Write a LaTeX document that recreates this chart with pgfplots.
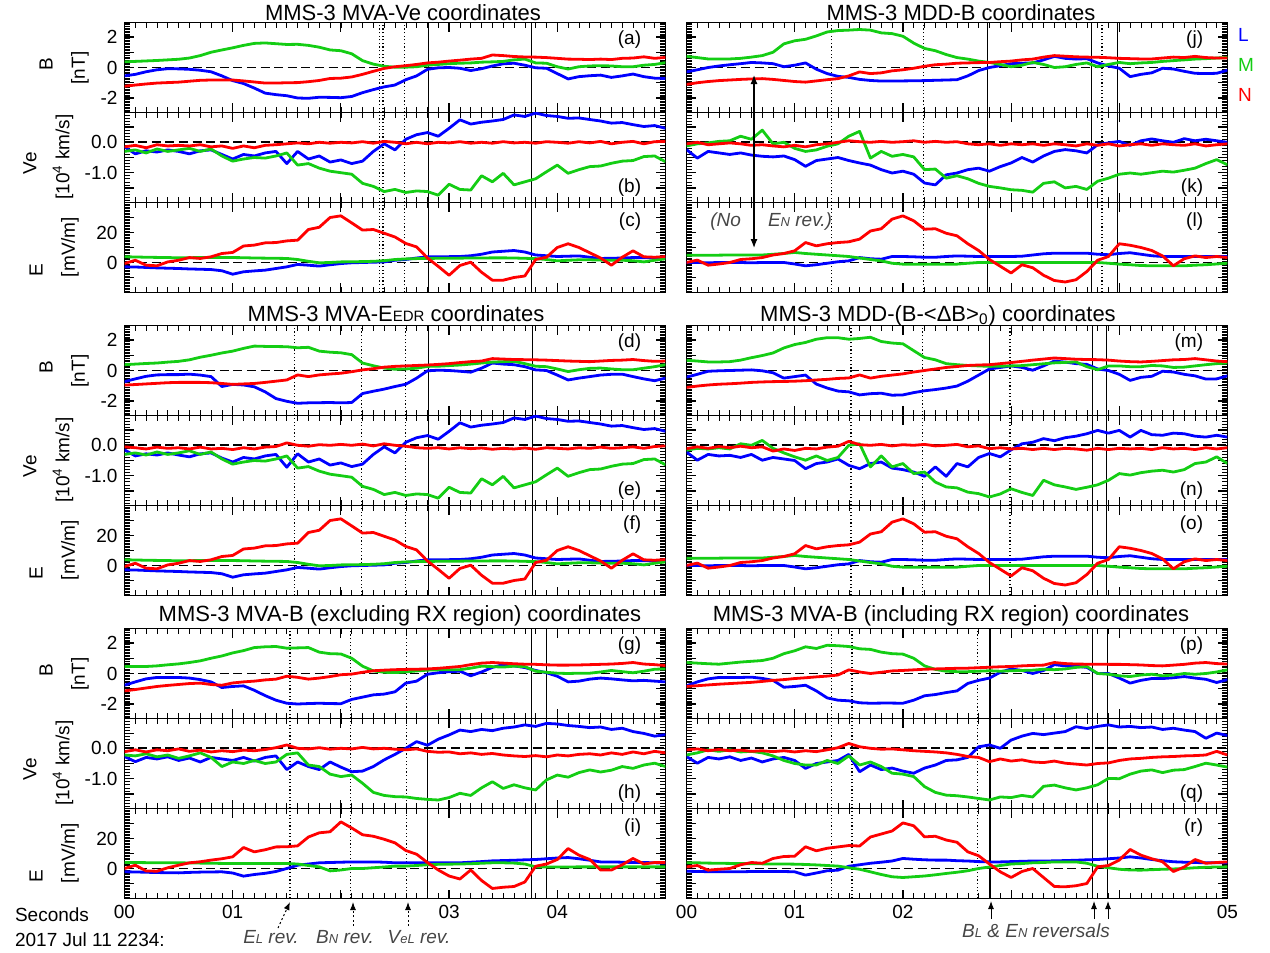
\documentclass[border=0pt]{standalone}
\usepackage{fontspec}
\setmainfont{Liberation Sans}
\setsansfont{Liberation Sans}
\usepackage{pgfplots}
\pgfplotsset{compat=1.18}
\usepackage{pgfplotstable}
\usetikzlibrary{arrows.meta}

\definecolor{cL}{RGB}{0,0,255}
\definecolor{cM}{RGB}{20,205,20}
\definecolor{cN}{RGB}{255,0,0}
\definecolor{annot}{RGB}{70,70,70}

\newcommand{\fs}{\fontsize{9.5}{11}\selectfont}
\newcommand{\ft}{\fontsize{11}{13}\selectfont}
\newcommand{\sm}[1]{{\fontsize{6.5}{7}\selectfont #1}}

% ---------------- data: t, L (blue), M (green), N (red) ----------------
\pgfplotstableread{
t L M N
0.0 -0.55 0.37 -1.23
0.1 -0.45 0.40 -1.15
0.2 -0.28 0.43 -1.08
0.3 -0.15 0.46 -1.02
0.4 -0.08 0.50 -0.99
0.5 -0.09 0.54 -0.96
0.6 -0.12 0.62 -0.90
0.7 -0.18 0.78 -0.84
0.8 -0.28 1.00 -0.82
0.9 -0.55 1.15 -0.82
1.0 -0.86 1.29 -0.82
1.1 -1.05 1.45 -0.88
1.2 -1.35 1.58 -0.95
1.3 -1.68 1.61 -1.02
1.4 -1.78 1.56 -1.02
1.5 -1.85 1.51 -1.00
1.6 -2.00 1.52 -0.99
1.7 -2.02 1.45 -0.93
1.8 -1.95 1.33 -0.85
1.9 -1.96 1.15 -0.72
2.0 -1.98 1.10 -0.70
2.1 -1.90 0.90 -0.62
2.2 -1.65 0.45 -0.45
2.3 -1.45 0.22 -0.25
2.4 -1.27 0.08 -0.06
2.5 -1.15 0.02 0.05
2.6 -0.80 0.02 0.12
2.7 -0.55 0.05 0.20
2.8 -0.12 0.15 0.30
2.9 -0.02 0.20 0.35
3.0 0.00 0.25 0.42
3.1 -0.05 0.28 0.48
3.2 -0.20 0.30 0.55
3.3 -0.08 0.35 0.60
3.4 0.10 0.37 0.82
3.5 0.24 0.40 0.78
3.6 0.28 0.50 0.72
3.7 0.15 0.55 0.69
3.8 -0.02 0.30 0.68
3.9 -0.05 0.28 0.65
4.0 -0.40 0.05 0.60
4.1 -0.75 -0.10 0.55
4.2 -0.60 0.05 0.54
4.3 -0.54 0.10 0.52
4.4 -0.50 0.12 0.55
4.5 -0.65 0.10 0.52
4.6 -0.55 0.05 0.60
4.7 -0.43 0.05 0.62
4.8 -0.60 0.15 0.70
4.9 -0.70 0.20 0.60
5.0 -0.72 0.32 0.66
}\Ta

\pgfplotstableread{
t L M N
0.0 -0.15 -0.30 -0.15
0.1 -0.38 -0.25 -0.10
0.2 -0.28 -0.35 -0.18
0.3 -0.32 -0.22 -0.08
0.4 -0.25 -0.30 -0.12
0.5 -0.30 -0.25 -0.10
0.6 -0.38 -0.20 -0.12
0.7 -0.28 -0.30 -0.08
0.8 -0.25 -0.22 -0.15
0.9 -0.40 -0.45 -0.12
1.0 -0.55 -0.62 -0.20
1.1 -0.40 -0.55 -0.12
1.2 -0.45 -0.50 -0.18
1.3 -0.35 -0.52 -0.10
1.4 -0.30 -0.45 -0.08
1.5 -0.70 -0.35 -0.05
1.6 -0.30 -0.75 -0.02
1.7 -0.55 -0.70 -0.05
1.8 -0.45 -0.85 0.00
1.9 -0.65 -0.95 -0.03
2.0 -0.58 -1.00 0.00
2.1 -0.70 -1.05 -0.02
2.2 -0.62 -1.35 0.02
2.3 -0.30 -1.45 -0.03
2.4 -0.05 -1.62 0.03
2.5 -0.25 -1.55 0.00
2.6 0.10 -1.65 -0.05
2.7 0.25 -1.60 0.00
2.8 0.32 -1.62 -0.05
2.9 0.20 -1.74 0.00
3.0 0.46 -1.38 -0.02
3.1 0.74 -1.55 0.02
3.2 0.60 -1.57 -0.03
3.3 0.66 -1.10 0.00
3.4 0.70 -1.30 -0.03
3.5 0.75 -1.02 0.02
3.6 0.90 -1.40 -0.02
3.7 0.85 -1.30 0.00
3.8 0.96 -1.20 -0.03
3.9 0.88 -0.97 0.02
4.0 0.85 -0.75 0.00
4.1 0.79 -1.02 -0.03
4.2 0.80 -0.90 0.02
4.3 0.75 -0.80 -0.02
4.4 0.70 -0.78 0.03
4.5 0.63 -0.69 -0.05
4.6 0.65 -0.62 0.00
4.7 0.58 -0.60 0.03
4.8 0.52 -0.47 -0.05
4.9 0.55 -0.45 0.02
5.0 0.46 -0.64 0.03
}\Tb

\pgfplotstableread{
t L M N
0.0 -2.9 3.8 -0.7
0.1 -3.0 3.7 1.5
0.2 -3.3 3.5 -1.8
0.3 -3.6 3.4 -2.2
0.4 -3.8 3.3 0.4
0.5 -4.0 3.1 1.5
0.6 -4.3 3.2 3.3
0.7 -4.5 3.3 2.7
0.8 -4.7 3.3 3.8
0.9 -5.5 3.3 6.0
1.0 -7.8 3.3 6.7
1.1 -6.2 3.2 11.0
1.2 -5.6 3.0 11.6
1.3 -5.1 2.9 13.1
1.4 -4.0 2.8 13.3
1.5 -2.9 2.7 14.4
1.6 -1.3 2.0 14.9
1.7 -1.8 0.8 22.0
1.8 -2.4 -0.2 23.5
1.9 -1.5 0.0 30.0
2.0 -0.7 0.4 31.1
2.1 -0.2 0.5 26.4
2.2 0.0 0.6 21.6
2.3 0.2 0.8 22.0
2.4 0.4 1.2 19.5
2.5 1.5 2.0 17.0
2.6 2.0 2.4 12.7
2.7 3.0 2.6 10.4
2.8 3.8 2.7 3.0
2.9 3.8 2.8 -2.6
3.0 3.9 2.8 -8.5
3.1 4.0 2.9 -2.0
3.2 4.5 3.0 0.2
3.3 5.5 3.0 -6.5
3.4 7.0 3.1 -11.8
3.5 7.5 3.1 -11.8
3.6 8.0 3.0 -10.0
3.7 7.0 2.8 -9.0
3.8 5.0 2.6 2.0
3.9 4.5 2.0 3.5
4.0 4.0 1.1 10.0
4.1 4.2 1.5 12.5
4.2 4.4 1.8 10.0
4.3 3.5 1.8 6.5
4.4 2.7 1.6 3.0
4.5 2.8 1.5 -1.8
4.6 3.0 1.5 3.5
4.7 3.3 1.2 7.8
4.8 3.2 0.4 3.8
4.9 3.0 1.5 3.5
5.0 3.3 2.4 4.0
}\Tc

\pgfplotstableread{
t L M N
0.0 -0.73 0.38 -0.96
0.1 -0.55 0.42 -0.92
0.2 -0.38 0.46 -0.88
0.3 -0.29 0.49 -0.84
0.4 -0.27 0.55 -0.80
0.5 -0.27 0.60 -0.78
0.6 -0.24 0.70 -0.78
0.7 -0.30 0.87 -0.78
0.8 -0.40 1.00 -0.80
0.9 -1.05 1.15 -0.85
1.0 -0.91 1.27 -0.91
1.1 -0.95 1.45 -0.88
1.2 -1.07 1.60 -0.85
1.3 -1.40 1.58 -0.78
1.4 -1.84 1.57 -0.70
1.5 -2.02 1.56 -0.62
1.6 -2.15 1.49 -0.29
1.7 -2.12 1.52 -0.40
1.8 -2.11 1.27 -0.29
1.9 -2.10 1.20 -0.23
2.0 -2.12 1.16 -0.18
2.1 -2.10 1.04 -0.08
2.2 -1.51 0.49 0.04
2.3 -1.36 0.31 0.12
2.4 -1.22 0.16 0.22
2.5 -1.05 0.08 0.27
2.6 -0.90 0.10 0.30
2.7 -0.50 0.15 0.33
2.8 -0.02 0.27 0.36
2.9 0.02 0.28 0.40
3.0 0.00 0.32 0.45
3.1 -0.05 0.36 0.52
3.2 -0.11 0.42 0.58
3.3 0.15 0.49 0.62
3.4 0.49 0.55 0.78
3.5 0.42 0.58 0.75
3.6 0.38 0.60 0.72
3.7 0.25 0.45 0.71
3.8 0.04 0.28 0.70
3.9 0.00 0.25 0.68
4.0 -0.30 0.10 0.65
4.1 -0.62 -0.07 0.62
4.2 -0.50 0.05 0.60
4.3 -0.40 0.14 0.58
4.4 -0.30 0.16 0.62
4.5 -0.25 0.10 0.66
4.6 -0.24 0.05 0.68
4.7 -0.40 0.05 0.72
4.8 -0.55 0.15 0.65
4.9 -0.67 0.25 0.60
5.0 -0.50 0.38 0.62
}\Td

\pgfplotstableread{
t L M N
0.0 -0.15 -0.30 -0.05
0.1 -0.35 -0.25 -0.08
0.2 -0.28 -0.32 -0.12
0.3 -0.32 -0.22 -0.06
0.4 -0.25 -0.30 -0.10
0.5 -0.32 -0.25 -0.08
0.6 -0.38 -0.18 -0.12
0.7 -0.28 -0.30 -0.06
0.8 -0.25 -0.22 -0.12
0.9 -0.42 -0.45 -0.10
1.0 -0.55 -0.62 -0.14
1.1 -0.40 -0.55 -0.08
1.2 -0.45 -0.50 -0.12
1.3 -0.35 -0.52 -0.06
1.4 -0.30 -0.45 -0.04
1.5 -0.72 -0.35 0.08
1.6 -0.28 -0.75 0.00
1.7 -0.55 -0.70 -0.03
1.8 -0.45 -0.85 0.02
1.9 -0.65 -0.95 0.00
2.0 -0.58 -1.00 0.03
2.1 -0.70 -1.05 0.00
2.2 -0.62 -1.35 0.04
2.3 -0.30 -1.45 -0.02
2.4 -0.05 -1.62 0.05
2.5 -0.25 -1.55 0.00
2.6 0.10 -1.65 -0.03
2.7 0.25 -1.60 -0.08
2.8 0.32 -1.62 -0.10
2.9 0.20 -1.74 -0.08
3.0 0.46 -1.38 -0.12
3.1 0.74 -1.55 -0.08
3.2 0.60 -1.57 -0.11
3.3 0.66 -1.10 -0.09
3.4 0.70 -1.30 -0.13
3.5 0.75 -1.02 -0.10
3.6 0.90 -1.40 -0.12
3.7 0.85 -1.30 -0.09
3.8 0.96 -1.20 -0.13
3.9 0.88 -0.97 -0.08
4.0 0.85 -0.75 -0.10
4.1 0.79 -1.02 -0.12
4.2 0.80 -0.90 -0.08
4.3 0.75 -0.80 -0.10
4.4 0.70 -0.78 -0.06
4.5 0.63 -0.69 -0.10
4.6 0.65 -0.62 -0.08
4.7 0.58 -0.60 -0.05
4.8 0.52 -0.47 -0.10
4.9 0.55 -0.45 -0.04
5.0 0.46 -0.64 -0.02
}\Te

\pgfplotstableread{
t L M N
0.0 -0.77 0.46 -1.14
0.1 -0.55 0.46 -1.05
0.2 -0.35 0.46 -0.95
0.3 -0.26 0.50 -0.85
0.4 -0.26 0.57 -0.78
0.5 -0.26 0.63 -0.72
0.6 -0.30 0.72 -0.66
0.7 -0.40 0.83 -0.63
0.8 -0.55 1.00 -0.72
0.9 -0.92 1.15 -0.77
1.0 -0.85 1.35 -0.62
1.1 -0.81 1.50 -0.55
1.2 -1.10 1.70 -0.50
1.3 -1.45 1.75 -0.42
1.4 -1.75 1.77 -0.37
1.5 -1.95 1.66 -0.18
1.6 -2.00 1.68 -0.25
1.7 -1.97 1.70 -0.37
1.8 -1.95 1.40 -0.30
1.9 -1.97 1.30 -0.20
2.0 -1.98 1.28 -0.08
2.1 -1.70 1.00 -0.04
2.2 -1.55 0.48 0.08
2.3 -1.40 0.17 0.18
2.4 -1.35 0.08 0.22
2.5 -1.20 0.06 0.25
2.6 -0.63 0.10 0.27
2.7 -0.50 0.17 0.28
2.8 -0.05 0.22 0.30
2.9 0.05 0.24 0.34
3.0 0.12 0.24 0.40
3.1 0.15 0.25 0.46
3.2 -0.15 0.35 0.58
3.3 0.10 0.48 0.68
3.4 0.40 0.45 0.72
3.5 0.58 0.42 0.68
3.6 0.50 0.48 0.64
3.7 0.39 0.45 0.61
3.8 0.20 0.15 0.60
3.9 0.05 0.08 0.57
4.0 -0.18 0.02 0.55
4.1 -0.55 0.00 0.55
4.2 -0.50 0.02 0.56
4.3 -0.37 0.02 0.58
4.4 -0.30 0.10 0.60
4.5 -0.35 0.20 0.62
4.6 -0.42 0.12 0.66
4.7 -0.48 0.05 0.72
4.8 -0.45 0.15 0.62
4.9 -0.50 0.28 0.58
5.0 -0.55 0.30 0.52
}\Tg

\pgfplotstableread{
t L M N
0.0 -0.27 -0.22 -0.11
0.1 -0.44 -0.25 -0.05
0.2 -0.30 -0.18 -0.12
0.3 -0.35 -0.28 -0.05
0.4 -0.28 -0.22 -0.08
0.5 -0.40 -0.33 -0.02
0.6 -0.32 -0.25 -0.10
0.7 -0.45 -0.15 -0.06
0.8 -0.30 -0.30 -0.12
0.9 -0.35 -0.60 -0.08
1.0 -0.40 -0.45 -0.11
1.1 -0.30 -0.50 -0.06
1.2 -0.42 -0.40 -0.08
1.3 -0.30 -0.50 -0.04
1.4 -0.25 -0.45 0.02
1.5 -0.70 -0.20 0.11
1.6 -0.45 -0.15 0.00
1.7 -0.60 -0.55 -0.02
1.8 -0.70 -0.60 0.02
1.9 -0.45 -0.85 -0.03
2.0 -0.62 -0.93 0.00
2.1 -0.77 -0.88 -0.02
2.2 -0.75 -1.15 0.03
2.3 -0.60 -1.45 -0.02
2.4 -0.38 -1.55 0.00
2.5 -0.20 -1.59 -0.03
2.6 0.00 -1.60 -0.05
2.7 0.22 -1.65 -0.02
2.8 0.10 -1.68 -0.10
2.9 0.30 -1.70 -0.13
3.0 0.44 -1.62 -0.12
3.1 0.60 -1.48 -0.18
3.2 0.55 -1.55 -0.15
3.3 0.62 -1.30 -0.20
3.4 0.58 -1.10 -0.17
3.5 0.66 -1.32 -0.22
3.6 0.70 -1.20 -0.25
3.7 0.77 -1.30 -0.27
3.8 0.72 -1.37 -0.24
3.9 0.82 -1.04 -0.28
4.0 0.80 -0.88 -0.22
4.1 0.75 -0.95 -0.25
4.2 0.72 -0.80 -0.20
4.3 0.68 -0.71 -0.18
4.4 0.70 -0.78 -0.22
4.5 0.62 -0.72 -0.15
4.6 0.66 -0.60 -0.20
4.7 0.55 -0.66 -0.12
4.8 0.49 -0.55 -0.18
4.9 0.40 -0.49 -0.10
5.0 0.45 -0.60 -0.15
}\Th

\pgfplotstableread{
t L M N
0.0 -2.2 4.0 0.0
0.1 -2.3 4.0 2.2
0.2 -2.5 3.9 -1.6
0.3 -2.7 3.8 -1.8
0.4 -2.8 3.8 0.5
0.5 -2.9 3.8 2.2
0.6 -2.6 3.7 3.8
0.7 -2.4 3.6 4.5
0.8 -2.3 3.5 5.6
0.9 -2.2 3.4 6.5
1.0 -3.0 3.4 7.8
1.1 -5.1 3.4 14.0
1.2 -4.0 3.4 11.1
1.3 -3.2 3.3 12.5
1.4 -2.0 3.3 14.4
1.5 0.0 3.3 14.5
1.6 2.2 3.0 15.1
1.7 3.0 2.0 21.0
1.8 3.8 1.1 23.8
1.9 4.0 -1.6 24.5
2.0 4.2 -1.0 31.1
2.1 4.4 0.0 27.0
2.2 4.4 0.0 22.5
2.3 4.4 0.5 21.5
2.4 4.2 1.0 19.5
2.5 3.8 1.6 17.1
2.6 3.8 1.6 12.0
2.7 3.8 2.0 9.5
2.8 3.8 2.5 4.0
2.9 3.8 2.8 -1.0
3.0 3.8 2.9 -5.0
3.1 3.8 3.0 -7.0
3.2 4.2 3.2 -1.0
3.3 4.6 3.5 -8.0
3.4 5.1 3.8 -13.3
3.5 5.3 3.8 -12.5
3.6 5.5 3.6 -12.0
3.7 5.8 3.0 -9.0
3.8 6.0 1.1 1.5
3.9 6.5 1.0 3.0
4.0 7.0 1.0 6.0
4.1 7.3 1.0 13.3
4.2 6.5 1.1 8.9
4.3 5.5 1.1 6.0
4.4 4.4 1.1 -1.0
4.5 4.4 1.1 -1.0
4.6 4.2 1.1 2.5
4.7 4.0 1.1 6.7
4.8 4.0 1.1 3.0
4.9 3.8 1.1 4.0
5.0 3.6 1.1 4.0
}\Ti

\pgfplotstableread{
t L M N
0.0 -0.29 0.73 -1.11
0.1 -0.15 0.65 -1.00
0.2 0.00 0.56 -0.92
0.3 0.10 0.56 -0.86
0.4 0.18 0.56 -0.82
0.5 0.25 0.60 -0.78
0.6 0.33 0.68 -0.75
0.7 0.30 0.78 -0.73
0.8 0.25 1.00 -0.78
0.9 0.05 1.55 -0.85
1.0 0.15 1.75 -0.92
1.1 0.30 1.85 -0.96
1.2 -0.11 2.07 -0.88
1.3 -0.40 2.33 -0.80
1.4 -0.58 2.42 -0.73
1.5 -0.65 2.45 -0.55
1.6 -0.78 2.49 -0.29
1.7 -0.85 2.45 -0.40
1.8 -0.89 2.27 -0.35
1.9 -0.89 2.22 -0.22
2.0 -0.88 2.05 -0.15
2.1 -0.87 1.60 -0.05
2.2 -0.86 1.25 0.08
2.3 -0.84 1.10 0.18
2.4 -0.82 0.85 0.22
2.5 -0.80 0.65 0.28
2.6 -0.55 0.55 0.30
2.7 -0.20 0.42 0.32
2.8 0.00 0.33 0.33
2.9 0.12 0.20 0.38
3.0 0.25 0.05 0.42
3.1 0.28 0.15 0.50
3.2 0.30 0.33 0.55
3.3 0.50 0.20 0.68
3.4 0.73 0.00 0.78
3.5 0.60 0.05 0.74
3.6 0.55 0.20 0.70
3.7 0.58 0.30 0.68
3.8 0.30 0.05 0.67
3.9 0.10 0.20 0.64
4.0 -0.05 0.33 0.60
4.1 -0.60 0.25 0.58
4.2 -0.45 0.30 0.56
4.3 -0.35 0.33 0.56
4.4 -0.05 0.40 0.62
4.5 -0.10 0.45 0.68
4.6 -0.25 0.50 0.65
4.7 -0.38 0.55 0.73
4.8 -0.40 0.58 0.65
4.9 -0.38 0.62 0.62
5.0 -0.18 0.66 0.62
}\Tj

\pgfplotstableread{
t L M N
0.0 -0.24 -0.12 -0.05
0.1 -0.52 -0.05 0.00
0.2 -0.30 -0.02 -0.08
0.3 -0.35 0.03 -0.05
0.4 -0.40 0.05 -0.02
0.5 -0.35 0.20 -0.05
0.6 -0.42 0.10 -0.10
0.7 -0.46 0.40 -0.08
0.8 -0.48 -0.05 -0.12
0.9 -0.45 0.00 -0.15
1.0 -0.57 -0.20 -0.10
1.1 -0.79 -0.30 -0.15
1.2 -0.60 -0.25 -0.08
1.3 -0.55 -0.13 -0.05
1.4 -0.50 -0.05 0.00
1.5 -0.60 0.20 0.05
1.6 -0.68 0.36 0.02
1.7 -0.75 -0.52 0.00
1.8 -0.90 -0.30 0.03
1.9 -1.01 -0.46 0.00
2.0 -0.95 -0.40 0.02
2.1 -1.05 -0.48 0.05
2.2 -1.34 -0.90 0.00
2.3 -1.40 -0.88 0.03
2.4 -1.07 -1.18 0.00
2.5 -1.01 -1.10 0.02
2.6 -0.90 -1.20 -0.05
2.7 -0.85 -1.35 -0.08
2.8 -0.95 -1.45 -0.05
2.9 -0.80 -1.50 -0.10
3.0 -0.68 -1.56 -0.05
3.1 -0.50 -1.58 -0.08
3.2 -0.65 -1.64 -0.05
3.3 -0.45 -1.35 -0.10
3.4 -0.30 -1.30 -0.05
3.5 -0.24 -1.50 -0.08
3.6 -0.28 -1.45 -0.12
3.7 -0.35 -1.55 -0.05
3.8 -0.08 -1.28 -0.10
3.9 -0.02 -1.18 -0.05
4.0 0.03 -1.05 -0.12
4.1 -0.10 -1.01 -0.08
4.2 0.05 -1.05 -0.05
4.3 0.11 -1.00 -0.10
4.4 0.05 -0.95 -0.05
4.5 0.00 -0.98 -0.08
4.6 0.12 -0.92 -0.10
4.7 0.05 -0.85 -0.05
4.8 0.10 -0.70 -0.12
4.9 0.05 -0.57 -0.08
5.0 0.00 -0.74 -0.05
}\Tk

\pgfplotstableread{
t L M N
0.0 0.0 4.9 0.0
0.1 0.0 4.9 1.6
0.2 -0.2 4.9 -1.8
0.3 0.0 4.9 -1.0
0.4 0.0 5.0 0.0
0.5 0.0 5.0 2.0
0.6 -0.2 5.0 2.5
0.7 0.0 5.0 3.3
0.8 0.0 5.5 5.0
0.9 0.0 6.0 6.0
1.0 -1.0 6.7 7.8
1.1 -2.2 6.0 13.3
1.2 -1.5 5.5 11.1
1.3 -0.5 5.0 12.5
1.4 0.5 4.5 13.3
1.5 1.1 4.0 13.8
1.6 3.3 3.0 15.6
1.7 2.5 2.0 21.0
1.8 2.2 1.1 22.5
1.9 4.0 -0.5 28.9
2.0 4.0 -1.1 31.1
2.1 3.8 -1.1 27.8
2.2 3.5 -1.1 22.2
2.3 3.5 -1.1 22.5
2.4 4.0 -1.1 19.5
2.5 4.4 -1.1 17.8
2.6 4.2 -0.5 12.5
2.7 4.0 0.0 8.0
2.8 4.0 0.0 2.0
2.9 4.0 0.0 -2.5
3.0 4.0 0.0 -7.0
3.1 4.2 0.0 -1.5
3.2 5.0 0.0 -3.5
3.3 5.8 0.0 -8.5
3.4 6.2 0.0 -12.0
3.5 6.2 0.0 -13.0
3.6 6.2 0.0 -11.5
3.7 6.2 0.0 -6.0
3.8 5.5 0.0 1.5
3.9 5.2 -0.5 4.0
4.0 6.0 -1.1 12.5
4.1 6.5 -1.5 11.5
4.2 5.5 -2.0 10.0
4.3 4.5 -2.2 8.0
4.4 4.0 -2.2 4.4
4.5 4.0 -2.2 -2.2
4.6 4.0 -2.2 2.5
4.7 4.0 -1.8 4.4
4.8 4.0 -1.5 3.3
4.9 4.0 -1.0 4.0
5.0 4.0 -0.5 3.3
}\Tl

\pgfplotstableread{
t L M N
0.0 -0.44 0.67 -1.11
0.1 -0.25 0.62 -1.02
0.2 -0.05 0.56 -0.95
0.3 -0.02 0.56 -0.90
0.4 0.00 0.58 -0.87
0.5 0.02 0.68 -0.83
0.6 0.04 0.84 -0.78
0.7 -0.02 0.98 -0.75
0.8 -0.15 1.15 -0.73
0.9 -0.50 1.48 -0.72
1.0 -0.40 1.70 -0.70
1.1 -0.30 1.84 -0.67
1.2 -0.89 2.05 -0.62
1.3 -1.15 2.15 -0.58
1.4 -1.35 2.15 -0.52
1.5 -1.40 2.05 -0.49
1.6 -1.60 2.10 -0.29
1.7 -1.52 2.18 -0.50
1.8 -1.49 1.90 -0.38
1.9 -1.62 1.80 -0.30
2.0 -1.60 1.75 -0.22
2.1 -1.45 1.30 -0.10
2.2 -1.33 0.85 0.00
2.3 -1.25 0.70 0.10
2.4 -1.15 0.45 0.20
2.5 -1.02 0.38 0.26
2.6 -0.70 0.33 0.33
2.7 -0.30 0.30 0.36
2.8 0.10 0.27 0.38
2.9 0.20 0.28 0.45
3.0 0.30 0.30 0.52
3.1 0.20 0.32 0.60
3.2 0.02 0.38 0.68
3.3 0.30 0.44 0.75
3.4 0.62 0.50 0.82
3.5 0.55 0.53 0.78
3.6 0.45 0.56 0.74
3.7 0.40 0.25 0.72
3.8 0.10 0.05 0.71
3.9 0.00 0.30 0.68
4.0 -0.25 0.30 0.62
4.1 -0.65 0.25 0.58
4.2 -0.45 0.25 0.56
4.3 -0.38 0.33 0.60
4.4 -0.05 0.30 0.65
4.5 -0.10 0.20 0.70
4.6 -0.25 0.22 0.72
4.7 -0.35 0.30 0.78
4.8 -0.56 0.38 0.70
4.9 -0.55 0.45 0.62
5.0 -0.35 0.49 0.58
}\Tm

\pgfplotstableread{
t L M N
0.0 -0.22 -0.16 -0.11
0.1 -0.49 -0.10 -0.05
0.2 -0.30 -0.12 -0.10
0.3 -0.35 -0.08 -0.04
0.4 -0.33 -0.12 -0.08
0.5 -0.40 0.05 -0.03
0.6 -0.30 0.00 -0.08
0.7 -0.49 0.16 -0.05
0.8 -0.40 -0.10 -0.19
0.9 -0.45 -0.25 -0.12
1.0 -0.50 -0.38 -0.17
1.1 -0.77 -0.49 -0.10
1.2 -0.60 -0.35 -0.12
1.3 -0.55 -0.50 -0.06
1.4 -0.45 -0.40 -0.03
1.5 -0.66 0.00 0.13
1.6 -0.77 0.05 0.02
1.7 -0.60 -0.71 0.00
1.8 -0.55 -0.35 0.03
1.9 -0.75 -0.71 -0.02
2.0 -0.80 -0.60 0.02
2.1 -0.88 -0.93 0.00
2.2 -1.02 -0.88 0.03
2.3 -0.71 -1.21 -0.02
2.4 -1.02 -1.37 0.00
2.5 -0.60 -1.40 0.03
2.6 -0.71 -1.54 -0.05
2.7 -0.40 -1.59 -0.02
2.8 -0.27 -1.70 -0.11
2.9 -0.38 -1.60 -0.08
3.0 -0.15 -1.43 -0.12
3.1 0.05 -1.55 -0.10
3.2 0.10 -1.65 -0.14
3.3 0.22 -1.15 -0.10
3.4 0.15 -1.30 -0.14
3.5 0.25 -1.37 -0.10
3.6 0.30 -1.45 -0.12
3.7 0.38 -1.38 -0.16
3.8 0.49 -1.30 -0.10
3.9 0.40 -1.15 -0.14
4.0 0.49 -0.93 -0.10
4.1 0.27 -0.98 -0.12
4.2 0.49 -0.90 -0.10
4.3 0.35 -0.85 -0.14
4.4 0.33 -0.82 -0.08
4.5 0.40 -0.88 -0.12
4.6 0.38 -0.80 -0.10
4.7 0.30 -0.60 -0.14
4.8 0.27 -0.55 -0.08
4.9 0.33 -0.38 -0.12
5.0 0.27 -0.60 -0.08
}\Tn

\pgfplotstableread{
t L M N
0.0 -0.81 0.72 -0.85
0.1 -0.55 0.68 -0.80
0.2 -0.35 0.64 -0.75
0.3 -0.26 0.61 -0.70
0.4 -0.26 0.68 -0.66
0.5 -0.26 0.75 -0.62
0.6 -0.24 0.80 -0.58
0.7 -0.32 0.85 -0.52
0.8 -0.45 1.00 -0.45
0.9 -0.90 1.30 -0.40
1.0 -0.85 1.49 -0.33
1.1 -0.77 1.75 -0.28
1.2 -1.14 1.64 -0.22
1.3 -1.60 1.85 -0.17
1.4 -1.75 1.82 -0.10
1.5 -1.79 1.77 0.24
1.6 -1.92 1.62 0.10
1.7 -1.95 1.58 0.00
1.8 -1.94 1.40 0.08
1.9 -1.94 1.30 0.17
2.0 -1.95 1.27 0.20
2.1 -1.75 1.00 0.24
2.2 -1.46 0.50 0.28
2.3 -1.38 0.27 0.30
2.4 -1.25 0.15 0.32
2.5 -1.14 0.12 0.34
2.6 -0.65 0.12 0.35
2.7 -0.45 0.15 0.38
2.8 -0.30 0.18 0.41
2.9 0.08 0.15 0.44
3.0 0.30 0.18 0.46
3.1 0.20 0.20 0.50
3.2 0.00 0.22 0.53
3.3 0.20 0.28 0.55
3.4 0.58 0.25 0.72
3.5 0.50 0.30 0.65
3.6 0.48 0.40 0.62
3.7 0.40 0.46 0.61
3.8 0.00 0.00 0.61
3.9 0.00 -0.05 0.60
4.0 -0.30 -0.15 0.60
4.1 -0.63 -0.20 0.58
4.2 -0.45 -0.10 0.56
4.3 -0.33 -0.05 0.52
4.4 -0.33 -0.15 0.50
4.5 -0.28 -0.10 0.55
4.6 -0.20 0.00 0.60
4.7 -0.30 -0.05 0.68
4.8 -0.38 0.00 0.72
4.9 -0.59 0.10 0.65
5.0 -0.40 0.24 0.62
}\Tp

\pgfplotstableread{
t L M N
0.0 -0.27 -0.22 -0.05
0.1 -0.49 -0.15 -0.02
0.2 -0.30 -0.05 -0.08
0.3 -0.35 -0.10 -0.04
0.4 -0.28 -0.05 -0.08
0.5 -0.40 -0.12 -0.06
0.6 -0.32 -0.10 -0.10
0.7 -0.45 -0.15 -0.08
0.8 -0.35 -0.25 -0.11
0.9 -0.30 -0.40 -0.08
1.0 -0.40 -0.50 -0.12
1.1 -0.66 -0.55 -0.08
1.2 -0.50 -0.55 -0.11
1.3 -0.45 -0.40 -0.05
1.4 -0.40 -0.50 0.02
1.5 -0.20 -0.25 0.16
1.6 -0.77 -0.55 0.05
1.7 -0.55 -0.45 0.00
1.8 -0.70 -0.60 -0.03
1.9 -0.65 -0.82 -0.02
2.0 -0.75 -0.85 -0.05
2.1 -0.82 -0.93 -0.08
2.2 -0.65 -1.26 -0.10
2.3 -0.55 -1.45 -0.12
2.4 -0.40 -1.54 -0.15
2.5 -0.38 -1.56 -0.20
2.6 -0.30 -1.60 -0.27
2.7 0.05 -1.65 -0.30
2.8 0.11 -1.70 -0.44
2.9 0.00 -1.60 -0.35
3.0 0.27 -1.62 -0.42
3.1 0.40 -1.55 -0.38
3.2 0.49 -1.60 -0.45
3.3 0.45 -1.25 -0.47
3.4 0.50 -1.21 -0.42
3.5 0.55 -1.30 -0.49
3.6 0.71 -1.37 -0.52
3.7 0.65 -1.30 -0.55
3.8 0.72 -1.20 -0.50
3.9 0.77 -0.99 -0.48
4.0 0.70 -1.00 -0.40
4.1 0.72 -0.85 -0.35
4.2 0.68 -0.75 -0.33
4.3 0.70 -0.71 -0.30
4.4 0.62 -0.80 -0.28
4.5 0.66 -0.72 -0.27
4.6 0.60 -0.70 -0.25
4.7 0.55 -0.60 -0.24
4.8 0.33 -0.49 -0.22
4.9 0.50 -0.55 -0.10
5.0 0.42 -0.62 -0.22
}\Tq

\pgfplotstableread{
t L M N
0.0 -1.8 3.8 1.1
0.1 -2.0 3.8 2.0
0.2 -2.1 3.6 -1.1
0.3 -2.2 3.5 -0.5
0.4 -2.2 3.4 0.0
0.5 -2.2 3.3 2.5
0.6 -2.0 3.2 4.0
0.7 -2.0 3.1 3.5
0.8 -2.0 3.0 6.7
0.9 -2.0 3.0 8.0
1.0 -2.2 2.9 8.2
1.1 -4.4 2.7 14.5
1.2 -3.0 2.4 11.8
1.3 -1.5 2.0 13.5
1.4 -1.1 1.6 14.4
1.5 1.5 0.5 15.3
1.6 2.5 -0.5 15.0
1.7 3.5 -2.2 21.0
1.8 4.2 -4.0 23.0
1.9 5.0 -5.5 25.0
2.0 6.7 -6.0 30.4
2.1 6.2 -5.5 28.5
2.2 5.8 -5.0 21.1
2.3 5.6 -4.2 21.5
2.4 5.6 -3.3 19.0
2.5 5.2 -2.5 17.5
2.6 5.0 -1.5 11.1
2.7 4.6 0.0 8.5
2.8 4.4 1.0 3.0
2.9 4.4 2.0 -2.2
3.0 4.6 3.0 -6.0
3.1 4.8 3.3 -2.0
3.2 5.0 3.8 0.0
3.3 5.0 4.0 -6.0
3.4 5.1 4.4 -12.0
3.5 5.3 4.4 -12.2
3.6 5.5 4.4 -11.5
3.7 5.8 3.5 -10.0
3.8 6.0 1.5 1.1
3.9 6.5 0.5 2.0
4.0 7.0 -0.5 5.6
4.1 7.8 -1.0 12.7
4.2 7.0 -1.1 8.9
4.3 6.0 -0.8 6.5
4.4 5.2 -0.5 4.5
4.5 4.5 -0.3 -2.0
4.6 4.2 0.0 1.0
4.7 4.0 0.5 6.0
4.8 3.8 0.8 3.5
4.9 3.8 1.0 4.0
5.0 3.8 1.1 4.4
}\Tr

% ---------------- styles ----------------
\pgfplotsset{
  panel/.style={scale only axis, width=270.5pt, height=45pt, xmin=0, xmax=5,
    axis line style={line width=0.8pt},
    tick style={black, line width=0.6pt},
    minor tick style={black, line width=0.3pt},
    xtick pos=both, ytick pos=both,
    xtick={0,1,2,3,4,5}, minor xtick={0.1,0.2,...,4.95}, xticklabels={},
    major tick length=4.5pt, minor tick length=2.6pt, tick align=inside,
    ticklabel style={font=\fs}, clip=true},
  Bp/.style={ymin=-2.95, ymax=2.95, ytick={-2,-1,0,1,2}, minor ytick={-2.9,-2.8,...,2.95}, yticklabels={-2,,0,,2}},
  Vp/.style={ymin=-1.98, ymax=0.98, ytick={-1.5,-1,-0.5,0,0.5}, minor ytick={-1.9,-1.8,...,0.95}, yticklabels={,-1.0,,0.0,}},
  Ep/.style={ymin=-20, ymax=40, ytick={-10,0,10,20,30}, minor ytick={-19,-18,...,39}, yticklabels={,0,,20,}},
  noyl/.style={yticklabels={}},
  cl/.style={cL, line width=1.4pt, line join=round},
  cm/.style={cM, line width=1.4pt, line join=round},
  cn/.style={cN, line width=1.4pt, line join=round},
}
\tikzset{
  dotl/.style={black, line width=0.6pt, dash pattern=on 0.6pt off 1.2pt},
  soll/.style={black, line width=0.6pt},
  zerol/.style={black, line width=0.9pt, dash pattern=on 4.5pt off 2.3pt},
}

\newcommand{\vlines}[2]{%
  \pgfplotsinvokeforeach{#1}{\draw[dotl] ({axis cs:##1,0} |- {rel axis cs:0,0}) -- ({axis cs:##1,0} |- {rel axis cs:0,1});}%
  \pgfplotsinvokeforeach{#2}{\draw[soll] ({axis cs:##1,0} |- {rel axis cs:0,0}) -- ({axis cs:##1,0} |- {rel axis cs:0,1});}%
  \draw[zerol] (axis cs:0,0) -- (axis cs:5,0);%
}
\newcommand{\curves}[1]{%
  \addplot[cl] table[x=t,y=L]{#1};
  \addplot[cm] table[x=t,y=M]{#1};
  \addplot[cn] table[x=t,y=N]{#1};
}
% #1 x(pt) #2 top(pt) #3 styles #4 table #5 dotted #6 solid #7 rel y of label #8 label
\newcommand{\pan}[8]{%
\begin{axis}[panel,#3,at={(#1pt,-#2pt)},anchor=north west]
\vlines{#5}{#6}
\curves{#4}
\node[anchor=east,font=\fs] at (rel axis cs:0.968,#7) {#8};
\end{axis}}

\begin{document}
\begin{tikzpicture}
\useasboundingbox (0,0) rectangle (635pt,-476.5pt);

% left column
\pan{62.25}{11.25}{Bp}{\Ta}{2.36,2.39,2.59}{2.81,3.76}{0.815}{(a)}
\pan{62.25}{56.25}{Vp}{\Tb}{2.36,2.39,2.59}{2.81,3.76}{0.17}{(b)}
\pan{62.25}{101.25}{Ep}{\Tc}{2.36,2.39,2.59}{2.81,3.76}{0.79}{(c)}
\pan{62.25}{162.75}{Bp}{\Td}{1.57,2.19,2.60}{2.81,3.77}{0.815}{(d)}
\pan{62.25}{207.75}{Vp}{\Te}{1.57,2.19,2.60}{2.81,3.77}{0.17}{(e)}
\pan{62.25}{252.75}{Ep}{\Tc}{1.57,2.19,2.60}{2.81,3.77}{0.79}{(f)}
\pan{62.25}{314.25}{Bp}{\Tg}{1.53,2.09,2.61}{2.80,3.76,3.90}{0.815}{(g)}
\pan{62.25}{359.25}{Vp}{\Th}{1.53,2.09,2.61}{2.80,3.76,3.90}{0.17}{(h)}
\pan{62.25}{404.25}{Ep,xticklabels={00,01,,03,04,}}{\Ti}{1.53,2.09,2.61}{2.80,3.76,3.90}{0.79}{(i)}
% right column
\pan{343.25}{11.25}{Bp,noyl}{\Tj}{1.34,2.19,3.84}{2.78,3.745,3.98}{0.815}{(j)}
\pan{343.25}{56.25}{Vp,noyl}{\Tk}{1.34,2.19,3.84}{2.78,3.745,3.98}{0.17}{(k)}
\pan{343.25}{101.25}{Ep,noyl}{\Tl}{1.34,2.19,3.84}{2.78,3.745,3.98}{0.79}{(l)}
\pan{343.25}{162.75}{Bp,noyl}{\Tm}{1.52,2.18,2.99}{2.80,3.75,3.88}{0.815}{(m)}
\pan{343.25}{207.75}{Vp,noyl}{\Tn}{1.52,2.18,2.99}{2.80,3.75,3.88}{0.17}{(n)}
\pan{343.25}{252.75}{Ep,noyl}{\Tl}{1.52,2.18,2.99}{2.80,3.75,3.88}{0.79}{(o)}
\pan{343.25}{314.25}{Bp,noyl}{\Tp}{1.34,1.53,2.69}{2.805,3.75,3.89}{0.815}{(p)}
\pan{343.25}{359.25}{Vp,noyl}{\Tq}{1.34,1.53,2.69}{2.805,3.75,3.89}{0.17}{(q)}
\pan{343.25}{404.25}{Ep,noyl,xticklabels={00,01,02,,,05}}{\Tr}{1.34,1.53,2.69}{2.805,3.75,3.89}{0.79}{(r)}

\begin{scope}[x=0.5pt,y=-0.5pt]
% titles
\node[anchor=base,font=\ft] at (403,20) {MMS-3 MVA-Ve coordinates};
\node[anchor=base,font=\ft] at (961,20) {MMS-3 MDD-B coordinates};
\node[anchor=base,font=\ft] at (396,321) {MMS-3 MVA-E{\fontsize{7.5}{8}\selectfont EDR} coordinates};
\node[anchor=base,font=\ft] at (938,321) {MMS-3 MDD-(B-<ΔB>\textsubscript{0}) coordinates};
\node[anchor=base,font=\ft] at (400,621) {MMS-3 MVA-B (excluding RX region) coordinates};
\node[anchor=base,font=\ft] at (951,621) {MMS-3 MVA-B (including RX region) coordinates};
% y labels
\foreach \o in {0,303,606}{
  \node[rotate=90,font=\fs] at (46,64+\o) {B};
  \node[rotate=90,font=\fs] at (80,68+\o) {[nT]};
  \node[rotate=90,font=\fs] at (30,163+\o) {Ve};
  \node[rotate=90,font=\fs] at (63,157+\o) {[10\textsuperscript{4} km/s]};
  \node[rotate=90,font=\fs] at (36,270+\o) {E};
  \node[rotate=90,font=\fs] at (70,247+\o) {[mV/m]};
}
% legend
\node[anchor=west,font=\fs,text=cL] at (1231,35) {L};
\node[anchor=west,font=\fs,text=cM] at (1231,65) {M};
\node[anchor=west,font=\fs,text=cN] at (1231,95) {N};
% bottom texts
\node[anchor=base west,font=\fs] at (8,921) {Seconds};
\node[anchor=base west,font=\fs] at (8,946) {2017 Jul 11 2234:};
% annotations
\begin{scope}[font=\fs\itshape, text=annot]
\node[anchor=base] at (271,943) {E\sm{L} rev.};
\node[anchor=base] at (345,943) {B\sm{N} rev.};
\node[anchor=base] at (419,943) {V\sm{eL} rev.};
\node[anchor=base] at (1036,937) {B\sm{L} \& E\sm{N} reversals};
\node[anchor=base east] at (748,226) {(No};
\node[anchor=base west] at (761,226) {E\sm{N} rev.)};
\end{scope}
\draw[black, line width=0.5pt, dash pattern=on 1pt off 1.2pt, -{Latex[length=4pt,width=3pt]}] (278,928) -- (290,902);
\draw[black, line width=0.5pt, dash pattern=on 1pt off 1.2pt, -{Latex[length=4pt,width=3pt]}] (353,926) -- (353,902);
\draw[black, line width=0.5pt, dash pattern=on 1pt off 1.2pt, -{Latex[length=4pt,width=3pt]}] (408,926) -- (408,902);
\foreach \xx in {991,1094,1108}{
  \draw[black, line width=0.5pt, -{Latex[length=4pt,width=3pt]}] (\xx,919) -- (\xx,901);
}
\draw[black, line width=0.6pt, {Latex[length=4.5pt,width=3.5pt]}-{Latex[length=4.5pt,width=3.5pt]}] (754,75) -- (754,248);
\end{scope}
\end{tikzpicture}
\end{document}
